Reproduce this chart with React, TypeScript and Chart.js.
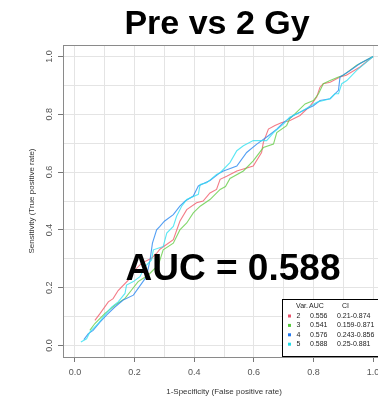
import React, { useEffect, useRef } from "react";
import { Chart, registerables } from "chart.js";

Chart.register(...registerables);

const mainTitle = "Pre vs 2 Gy";
const aucLabel = "AUC = 0.588";
const xTitle = "1-Specificity (False positive rate)";
const yTitle = "Sensitivity (True positive rate)";

const legendVars = ["2", "3", "4", "5"];
const legendAuc = ["0.556", "0.541", "0.576", "0.588"];
const legendCi = ["0.21-0.874", "0.159-0.871", "0.243-0.856", "0.25-0.881"];
const legendHeader = ["Var.", "AUC", "CI"];

const fprRed = [0.067, 0.084, 0.112, 0.128, 0.145, 0.179, 0.19, 0.224, 0.257, 0.275, 0.285, 0.33, 0.352, 0.375, 0.408, 0.43, 0.453, 0.475, 0.487, 0.509, 0.543, 0.598, 0.626, 0.632, 0.649, 0.671, 0.694, 0.72, 0.755, 0.79, 0.811, 0.822, 0.833, 0.856, 0.889, 0.91, 0.956, 1.0];
const tprRed = [0.087, 0.11, 0.151, 0.162, 0.19, 0.226, 0.25, 0.285, 0.302, 0.32, 0.333, 0.366, 0.43, 0.47, 0.494, 0.5, 0.528, 0.54, 0.575, 0.586, 0.604, 0.621, 0.668, 0.703, 0.749, 0.761, 0.772, 0.778, 0.796, 0.83, 0.86, 0.894, 0.906, 0.911, 0.929, 0.935, 0.964, 1.0];

const fprGreen = [0.05, 0.067, 0.1, 0.134, 0.168, 0.19, 0.212, 0.246, 0.28, 0.296, 0.33, 0.352, 0.375, 0.397, 0.42, 0.453, 0.487, 0.505, 0.52, 0.565, 0.598, 0.632, 0.666, 0.677, 0.71, 0.72, 0.755, 0.772, 0.8, 0.817, 0.833, 0.856, 0.884, 0.9, 0.945, 1.0];
const tprGreen = [0.052, 0.076, 0.11, 0.139, 0.163, 0.192, 0.221, 0.244, 0.279, 0.331, 0.354, 0.4, 0.424, 0.459, 0.482, 0.505, 0.54, 0.55, 0.578, 0.604, 0.639, 0.685, 0.697, 0.737, 0.761, 0.784, 0.819, 0.836, 0.848, 0.871, 0.906, 0.917, 0.929, 0.935, 0.97, 1.0];

const fprBlue = [0.03, 0.045, 0.061, 0.084, 0.106, 0.134, 0.162, 0.196, 0.224, 0.24, 0.252, 0.26, 0.274, 0.285, 0.3, 0.33, 0.352, 0.37, 0.397, 0.414, 0.453, 0.487, 0.498, 0.514, 0.543, 0.576, 0.61, 0.649, 0.677, 0.7, 0.733, 0.778, 0.8, 0.822, 0.856, 0.884, 0.889, 0.923, 0.956, 1.0];
const tprBlue = [0.02, 0.041, 0.052, 0.081, 0.105, 0.133, 0.157, 0.174, 0.215, 0.238, 0.296, 0.354, 0.4, 0.412, 0.43, 0.453, 0.482, 0.5, 0.517, 0.552, 0.571, 0.598, 0.604, 0.61, 0.621, 0.668, 0.697, 0.726, 0.749, 0.772, 0.796, 0.819, 0.83, 0.848, 0.854, 0.883, 0.929, 0.952, 0.976, 1.0];

const fprCyan = [0.02, 0.039, 0.05, 0.061, 0.078, 0.1, 0.123, 0.145, 0.168, 0.173, 0.196, 0.218, 0.235, 0.257, 0.263, 0.296, 0.308, 0.33, 0.341, 0.358, 0.375, 0.414, 0.42, 0.442, 0.475, 0.487, 0.52, 0.543, 0.565, 0.598, 0.643, 0.666, 0.7, 0.72, 0.755, 0.811, 0.856, 0.872, 0.884, 0.895, 0.912, 0.945, 1.0];
const tprCyan = [0.012, 0.023, 0.046, 0.058, 0.076, 0.105, 0.133, 0.151, 0.18, 0.209, 0.221, 0.238, 0.273, 0.296, 0.331, 0.342, 0.389, 0.412, 0.447, 0.482, 0.505, 0.523, 0.557, 0.563, 0.592, 0.598, 0.633, 0.674, 0.691, 0.709, 0.709, 0.737, 0.767, 0.79, 0.807, 0.842, 0.854, 0.871, 0.871, 0.906, 0.917, 0.952, 1.0];

const lineColors = ["rgba(240,90,105,0.8)", "rgba(100,205,70,0.8)", "rgba(40,135,240,0.8)", "rgba(50,225,240,0.8)"];
const swatchColors = ["#e8506a", "#55c83c", "#2277ee", "#22dde8"];

const toPoints = (xs: number[], ys: number[]) => xs.map((x, i) => ({ x, y: ys[i] }));

const FONT = "'Liberation Sans', Arial, Helvetica, sans-serif";

const overlayPlugin = {
  id: "overlay",
  afterDatasetsDraw(chart: any) {
    const { ctx, chartArea } = chart;
    ctx.save();
    // plot box
    ctx.strokeStyle = "#8a8a8a";
    ctx.lineWidth = 1;
    ctx.strokeRect(chartArea.left + 0.5, chartArea.top + 0.5, chartArea.right - chartArea.left, chartArea.bottom - chartArea.top);

    // big AUC text
    ctx.fillStyle = "#000";
    ctx.font = `bold 37px ${FONT}`;
    ctx.textAlign = "center";
    ctx.textBaseline = "alphabetic";
    ctx.fillText(aucLabel, 233, 280);

    // legend box
    const lx = 282, ly = 299, lw = chartArea.right - 282, lh = 57;
    ctx.fillStyle = "#fff";
    ctx.fillRect(lx, ly, lw, lh);
    ctx.strokeStyle = "#000";
    ctx.strokeRect(lx + 0.5, ly + 0.5, lw, lh);
    ctx.font = `7px ${FONT}`;
    ctx.textAlign = "left";
    ctx.textBaseline = "middle";
    ctx.fillStyle = "#222";
    ctx.fillText(legendHeader[0], 296, 306.5);
    ctx.fillText(legendHeader[1], 309, 306.5);
    ctx.fillText(legendHeader[2], 342, 306.5);
    for (let i = 0; i < legendVars.length; i++) {
      const y = 316 + i * 9.4;
      ctx.fillStyle = swatchColors[i];
      ctx.fillRect(288, y - 1.5, 3, 3);
      ctx.fillStyle = "#222";
      ctx.fillText(legendVars[i], 296.5, y);
      ctx.fillText(legendAuc[i], 310, y);
      ctx.fillText(legendCi[i], 337, y);
    }
    ctx.restore();
  },
  afterDraw(chart: any) {
    const { ctx } = chart;
    ctx.save();
    ctx.fillStyle = "#000";
    ctx.font = `bold 34px ${FONT}`;
    ctx.textAlign = "center";
    ctx.textBaseline = "alphabetic";
    ctx.fillText(mainTitle, 217, 34);
    ctx.restore();
  },
};

const isMajor = (v: number) => Math.round(v * 10) % 2 === 0;

export default function App() {
  const ref = useRef<HTMLCanvasElement | null>(null);
  useEffect(() => {
    if (!ref.current) return;
    const tickFont = { family: FONT, size: 9 };
    const chart = new Chart(ref.current, {
      type: "scatter",
      data: {
        datasets: [
          { label: "5", data: toPoints(fprCyan, tprCyan), borderColor: lineColors[3] },
          { label: "4", data: toPoints(fprBlue, tprBlue), borderColor: lineColors[2] },
          { label: "3", data: toPoints(fprGreen, tprGreen), borderColor: lineColors[1] },
          { label: "2", data: toPoints(fprRed, tprRed), borderColor: lineColors[0] },
        ].map((d) => ({ ...d, showLine: true, pointRadius: 0, borderWidth: 1.1, fill: false, tension: 0 })),
      },
      options: {
        animation: false,
        responsive: false,
        events: [],
        layout: { padding: { left: 0, top: 45, right: 15, bottom: 0 } },
        plugins: { legend: { display: false }, tooltip: { enabled: false }, title: { display: false } },
        scales: {
          x: {
            type: "linear",
            min: -0.04,
            max: 1.04,
            afterFit: (s: any) => { s.height = 45; },
            ticks: {
              stepSize: 0.1,
              includeBounds: false,
              autoSkip: false,
              maxRotation: 0,
              minRotation: 0,
              padding: 5,
              color: "#555",
              font: tickFont,
              callback: (v: any) => (isMajor(Number(v)) ? Number(v).toFixed(1) : ""),
            },
            grid: {
              color: "#e4e4e4",
              lineWidth: 1,
              tickLength: 5,
              tickColor: (c: any) => (c.tick && isMajor(c.tick.value) ? "#777" : "rgba(0,0,0,0)"),
            },
            border: { color: "#8a8a8a", width: 1 },
            title: { display: true, text: xTitle, color: "#333", font: { family: FONT, size: 8 }, padding: { top: 0, bottom: 5 } },
          },
          y: {
            type: "linear",
            min: -0.04,
            max: 1.04,
            afterFit: (s: any) => { s.width = 63; },
            ticks: {
              stepSize: 0.1,
              includeBounds: false,
              autoSkip: false,
              minRotation: 90,
              maxRotation: 90,
              crossAlign: "center",
              padding: 2,
              color: "#555",
              font: tickFont,
              callback: (v: any) => (isMajor(Number(v)) ? Number(v).toFixed(1) : ""),
            },
            grid: {
              color: "#e4e4e4",
              lineWidth: 1,
              tickLength: 5,
              tickColor: (c: any) => (c.tick && isMajor(c.tick.value) ? "#777" : "rgba(0,0,0,0)"),
            },
            border: { color: "#8a8a8a", width: 1 },
            title: { display: true, text: yTitle, color: "#333", font: { family: FONT, size: 8 }, padding: { top: 27, bottom: 0 } },
          },
        },
      } as any,
      plugins: [overlayPlugin],
    });
    return () => chart.destroy();
  }, []);
  return (
    <div style={{ position: "fixed", left: 0, top: 0, width: 378, height: 402, overflow: "hidden", background: "#fff" }}>
      <canvas ref={ref} width={400} height={402} style={{ display: "block", width: 400, height: 402 }} />
    </div>
  );
}
